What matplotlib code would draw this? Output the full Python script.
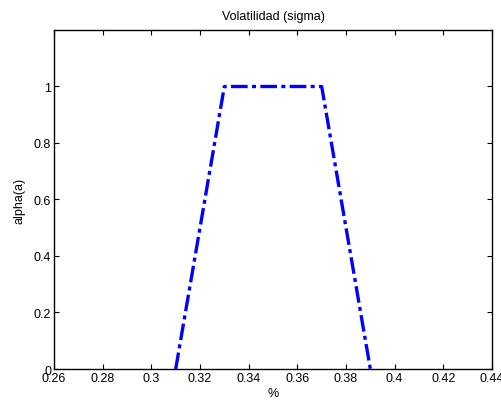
import matplotlib
matplotlib.use('Agg')
import matplotlib.pyplot as plt

# trapezoid membership function
x_vals = [0.31, 0.33, 0.37, 0.39]
alpha_vals = [0, 1, 1, 0]

x_ticks = [0.26, 0.28, 0.3, 0.32, 0.34, 0.36, 0.38, 0.4, 0.42, 0.44]
x_tick_labels = ['0.26', '0.28', '0.3', '0.32', '0.34', '0.36', '0.38', '0.4', '0.42', '0.44']
y_ticks = [0, 0.2, 0.4, 0.6, 0.8, 1]
y_tick_labels = ['0', '0.2', '0.4', '0.6', '0.8', '1']

plt.rcParams['font.family'] = ['Liberation Sans', 'DejaVu Sans']
plt.rcParams['font.size'] = 9

fig = plt.figure(figsize=(5.02, 4.02), dpi=100)
ax = fig.add_axes([0.1076, 0.0796, 0.8725, 0.8433])

ax.plot(x_vals, alpha_vals, color='#0000ff', linewidth=2.4,
        linestyle=(0, (5, 1.3, 1.2, 1.3)), clip_on=False)

ax.set_xlim(0.26, 0.44)
ax.set_ylim(0, 1.2)
ax.set_xticks(x_ticks)
ax.set_xticklabels(x_tick_labels)
ax.set_yticks(y_ticks)
ax.set_yticklabels(y_tick_labels)
ax.tick_params(direction='in', top=True, right=True, length=3.6, width=0.8,
               pad=2, labelsize=9)
for sp in ax.spines.values():
    sp.set_linewidth(1)

ax.set_title('Volatilidad (sigma)', fontsize=9, pad=8)
ax.set_xlabel('%', fontsize=9, labelpad=2)
ax.set_ylabel('alpha(a)', fontsize=9, labelpad=6)

fig.savefig('out.png', dpi=100)
